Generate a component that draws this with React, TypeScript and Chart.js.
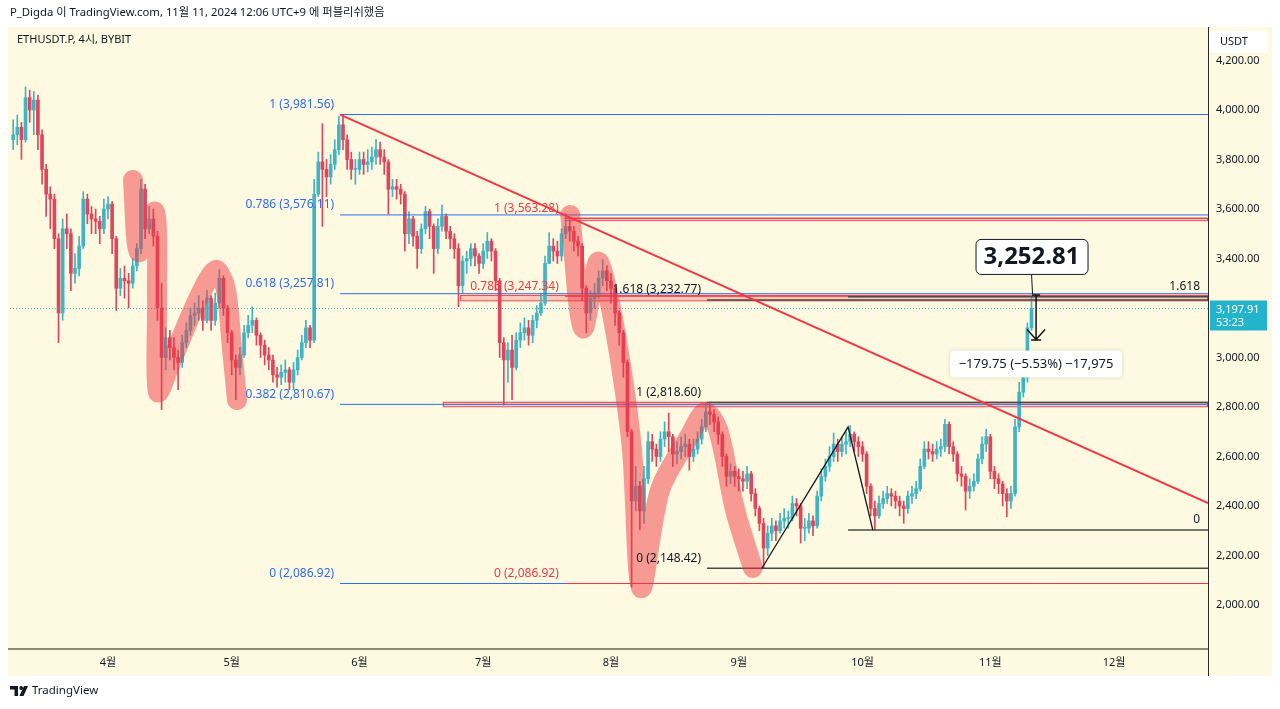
import React, { useEffect, useRef } from 'react';
import { Chart, registerables } from 'chart.js';

Chart.register(...registerables);

const FONT = '"Noto Sans", "Noto Sans CJK KR", sans-serif';

// ---- Data: daily OHLC, day offset from 2024-04-01 ----
const START_DAY = -23;
const FIRST_OPEN = 3880;
const closes = [
  3900, 3930, 3880, 4050, 4000, 4040, 3900, 3760, 3660, 3640, 3480, 3180, 3520, 3500, 3340, 3360, 3450, 3640, 3580, 3560, 3550, 3520, 3600,
  3620, 3480, 3280, 3320, 3310, 3300, 3370, 3440, 3680, 3520, 3560, 3490, 3200, 3000, 3080, 3040, 3000, 2980, 3060, 3110, 3170, 3180, 3200, 3150,
  3240, 3150, 3220, 3320, 3200, 3100, 2990, 2960, 3010, 3100, 3130, 3150, 3090, 3050, 3010, 2990, 2930, 2920, 2940, 2950, 2900, 2950, 3000, 3060, 3120, 3070,
  3660, 3790, 3760, 3730, 3780, 3840, 3940, 3880, 3800, 3760, 3760, 3800, 3780, 3790, 3810, 3840, 3810, 3790, 3680, 3690, 3680, 3660, 3500, 3560, 3490, 3440,
  3520, 3590, 3530, 3440, 3530, 3570, 3510, 3480, 3440, 3290, 3390, 3400, 3440, 3410, 3380, 3430, 3470, 3430, 3310, 3060, 2990, 3030, 2960, 3070,
  3100, 3120, 3090, 3150, 3180, 3220, 3380, 3450, 3430, 3410, 3500, 3530, 3510, 3470, 3450, 3280, 3180, 3240, 3260, 3320, 3350, 3310, 3280, 3180, 3100,
  2980, 2700, 2420, 2480, 2380, 2510, 2660, 2630, 2600, 2670, 2700, 2680, 2610, 2620, 2640, 2650, 2600, 2630, 2670, 2720, 2780, 2770, 2740, 2690, 2600,
  2520, 2540, 2520, 2510, 2500, 2530, 2450, 2390, 2330, 2230, 2290, 2320, 2300, 2340, 2350, 2350, 2410, 2400, 2310, 2310, 2340, 2320, 2440, 2520, 2560,
  2600, 2650, 2620, 2650, 2660, 2690, 2660, 2640, 2610, 2480, 2390, 2360, 2410, 2430, 2450, 2440, 2420, 2400, 2390, 2440, 2450, 2470, 2560, 2630, 2620,
  2610, 2630, 2640, 2730, 2640, 2610, 2530, 2520, 2460, 2480, 2500, 2590, 2650, 2680, 2540, 2510, 2490, 2450, 2420, 2450, 2720, 2860, 2920, 3120, 3198,
];
const highs = [
  3960, 3980, 3950, 4093, 4080, 4075, 4060, 3920, 3780, 3690, 3660, 3500, 3560, 3580, 3520, 3420, 3490, 3670, 3660, 3610, 3600, 3570, 3640,
  3650, 3630, 3490, 3360, 3370, 3340, 3400, 3460, 3720, 3700, 3610, 3600, 3510, 3300, 3120, 3110, 3080, 3030, 3090, 3140, 3200, 3220, 3250, 3230,
  3270, 3250, 3260, 3355, 3330, 3210, 3110, 3010, 3040, 3130, 3170, 3205, 3160, 3100, 3070, 3040, 3010, 2960, 2970, 2990, 2960, 2980, 3030, 3090, 3150, 3130,
  3720, 3830, 3945, 3800, 3820, 3880, 3975, 3982, 3900, 3830, 3800, 3830, 3830, 3840, 3850, 3880, 3870, 3840, 3800, 3720, 3720, 3700, 3670, 3590, 3570, 3510,
  3540, 3610, 3600, 3540, 3560, 3616, 3580, 3530, 3500, 3460, 3410, 3430, 3460, 3460, 3420, 3460, 3505, 3480, 3440, 3320, 3080, 3060, 3090, 3100,
  3140, 3160, 3150, 3170, 3210, 3260, 3410, 3505, 3480, 3470, 3520, 3583, 3560, 3530, 3490, 3460, 3290, 3270, 3300, 3350, 3395, 3370, 3340, 3290, 3190,
  3110, 2990, 2710, 2560, 2500, 2560, 2700, 2690, 2650, 2700, 2740, 2775, 2690, 2660, 2680, 2690, 2670, 2670, 2700, 2750, 2818, 2810, 2790, 2760, 2700,
  2610, 2570, 2560, 2550, 2540, 2560, 2540, 2470, 2400, 2350, 2320, 2350, 2340, 2370, 2390, 2380, 2440, 2430, 2410, 2350, 2370, 2360, 2460, 2550, 2590,
  2640, 2695, 2670, 2680, 2700, 2725, 2700, 2680, 2660, 2620, 2490, 2420, 2440, 2460, 2480, 2470, 2460, 2440, 2420, 2460, 2480, 2500, 2590, 2660, 2660,
  2650, 2660, 2670, 2750, 2740, 2660, 2620, 2560, 2530, 2510, 2530, 2610, 2680, 2710, 2690, 2560, 2530, 2500, 2470, 2480, 2750, 2900, 2960, 3140, 3252.81,
];
const lows = [
  3840, 3860, 3800, 3870, 3950, 3900, 3840, 3700, 3570, 3520, 3440, 3060, 3150, 3440, 3270, 3300, 3330, 3440, 3540, 3500, 3500, 3460, 3500,
  3560, 3420, 3190, 3250, 3240, 3200, 3280, 3350, 3420, 3480, 3500, 3450, 3150, 2790, 2950, 2990, 2950, 2870, 2960, 3040, 3090, 3130, 3150, 3110,
  3140, 3110, 3130, 3200, 3170, 3060, 2930, 2830, 2930, 3000, 3080, 3100, 3050, 3000, 2970, 2950, 2900, 2880, 2890, 2900, 2870, 2870, 2930, 2990, 3040, 3040,
  3060, 3650, 3530, 3650, 3700, 3760, 3820, 3840, 3760, 3720, 3700, 3740, 3740, 3750, 3760, 3780, 3780, 3740, 3580, 3650, 3640, 3620, 3430, 3460, 3450, 3360,
  3420, 3500, 3480, 3340, 3420, 3510, 3480, 3440, 3400, 3205, 3260, 3340, 3370, 3370, 3340, 3360, 3400, 3390, 3270, 3000, 2808, 2900, 2830, 2950,
  3040, 3070, 3050, 3060, 3120, 3170, 3210, 3380, 3390, 3380, 3390, 3480, 3470, 3430, 3410, 3230, 3100, 3150, 3200, 3240, 3290, 3270, 3220, 3130, 3050,
  2920, 2680, 2073, 2380, 2303, 2330, 2490, 2580, 2560, 2580, 2640, 2620, 2560, 2570, 2590, 2600, 2545, 2580, 2610, 2650, 2700, 2730, 2700, 2650, 2560,
  2480, 2490, 2480, 2460, 2460, 2470, 2420, 2360, 2300, 2150, 2200, 2260, 2260, 2290, 2310, 2310, 2340, 2360, 2250, 2260, 2290, 2280, 2310, 2420, 2500,
  2540, 2580, 2580, 2600, 2610, 2640, 2620, 2600, 2580, 2450, 2360, 2303, 2350, 2390, 2410, 2400, 2390, 2360, 2330, 2370, 2410, 2430, 2460, 2550, 2590,
  2580, 2590, 2600, 2620, 2610, 2580, 2500, 2480, 2384, 2430, 2460, 2490, 2570, 2620, 2510, 2470, 2450, 2400, 2357, 2390, 2440, 2700, 2840, 2900, 3110,
];

// Axis ticks
const monthTickDays = [0, 30, 61, 91, 122, 153, 183, 214, 244];
const monthLabels = ['4월', '5월', '6월', '7월', '8월', '9월', '10월', '11월', '12월'];
const priceTicks = [2000, 2200, 2400, 2600, 2800, 3000, 3200, 3400, 3600, 3800, 4000, 4200];
const X_MIN = -23.77;
const X_MAX = 266.8;
const Y_MIN = 1826.3;
const Y_MAX = 4331.3;

// Fibonacci tools (level labels, prices, anchor day)
const blueFibLevels = ['1', '0.786', '0.618', '0.382', '0'];
const blueFibPrices = [3981.56, 3576.11, 3257.81, 2810.67, 2086.92];
const blueFibStart = 56.3;
const redFibLevels = ['1', '0.786', '0'];
const redFibPrices = [3563.28, 3247.34, 2086.92];
const redFibStart = 110.8;
const blackFibLevels = ['1.618', '1', '0'];
const blackFibPrices = [3232.77, 2818.6, 2148.42];
const blackFibStart = 145.3;
const rightFibLevels = ['1.618', '0'];
const rightFibPrices = [3245, 2303];
const rightFibStart = 179.5;

// Zones (start day, top price, bottom price)
const zoneStarts = [85.4, 81.2, 110.8];
const zoneTops = [3253, 2821, 3563.28];
const zoneBottoms = [3231, 2803, 3555];

// Trend line and zig-zag [day, price]
const trendLine = [[56.3, 3981.56], [266.8, 2412]];
const zigzag = [[158.6, 2148.42], [179.5, 2719], [185.5, 2303]];

// Hand-drawn highlighter paths [day, price]
const strokeA = [[6.06, 3717], [7.5, 3426], [11.4, 3588], [11.9, 3232], [12.1, 2861], [15.5, 2990], [22.3, 3253], [26.2, 3354], [28.6, 3273], [30.1, 3030], [31.3, 2828]];
const strokeB = [[112.1, 3576], [115.2, 3119], [118.8, 3386], [120.8, 3293], [124.2, 2990], [127.1, 2626], [129.3, 2069], [133.9, 2465], [141.2, 2687], [144.8, 2780], [148, 2707], [152.1, 2384], [156.4, 2150]];

const lastPrice = 3197.91;
const lastPriceTimer = '53:23';
const highLabelDay = 224;
const highLabelPrice = 3252.81;
const measureDay = 225.1;
const measureFrom = 3252.81;
const measureTo = 3073.06;
const measureText = '\u2212179.75 (\u22125.53%) \u221217,975';

const UP = '#3fb4c5';
const DOWN = '#e0455b';
const PANEL = '#fefae1';
const BLUE = '#2f6bf0';
const RED = '#f23645';
const DARK = '#131722';

const fmt = (v: number) => v.toLocaleString('en-US', { minimumFractionDigits: 2, maximumFractionDigits: 2 });

function buildConfig() {
  const opens = closes.map((c, i) => (i === 0 ? FIRST_OPEN : closes[i - 1]));
  const days = closes.map((_, i) => START_DAY + i);
  const colors = closes.map((c, i) => (c >= opens[i] ? UP : DOWN));
  const pts = (arr: number[][]) => arr.map(([x, y]) => ({ x, y }));
  const hline = (start: number, price: number) => [{ x: start, y: price }, { x: X_MAX, y: price }];
  const line = (data: any, color: string, width: number, order: number, extra: any = {}) => ({
    type: 'line', data, borderColor: color, borderWidth: width, pointRadius: 0, fill: false, tension: 0, order, ...extra,
  });

  const datasets: any[] = [];
  datasets.push({
    type: 'bar', data: days.map((d, i) => ({ x: d, y: [lows[i], highs[i]] })),
    backgroundColor: colors, barThickness: 1, grouped: false, order: 20,
  });
  datasets.push({
    type: 'bar', data: days.map((d, i) => ({ x: d, y: [opens[i], closes[i]] })),
    backgroundColor: colors, barThickness: 3, minBarLength: 1, grouped: false, order: 19,
  });
  datasets.push(line(hline(X_MIN, lastPrice), '#2bb0c8', 1, 18, { borderDash: [1, 2] }));
  blueFibPrices.forEach((p) => datasets.push(line(hline(blueFibStart, p), BLUE, 1, 10)));
  redFibPrices.forEach((p) => datasets.push(line(hline(redFibStart, p), RED, 1, 9)));
  blackFibPrices.forEach((p) => datasets.push(line(hline(blackFibStart, p), '#4a4a44', 1.5, 8)));
  rightFibPrices.forEach((p) => datasets.push(line(hline(rightFibStart, p), '#4a4a44', 1.5, 8)));
  datasets.push(line(pts(strokeA), 'rgba(238,58,70,0.5)', 20, 5, { borderCapStyle: 'round', borderJoinStyle: 'round', tension: 0.3 }));
  datasets.push(line(pts(strokeB), 'rgba(238,58,70,0.5)', 20, 5, { borderCapStyle: 'round', borderJoinStyle: 'round', tension: 0.3 }));
  datasets.push(line(pts(zigzag), '#1a1a1a', 1.3, 2));
  datasets.push(line(pts(trendLine), RED, 2, 1));

  const overlay = {
    id: 'overlay',
    beforeDraw(chart: any) {
      const ctx = chart.ctx;
      ctx.save();
      ctx.fillStyle = '#ffffff';
      ctx.fillRect(0, 0, chart.width, chart.height);
      ctx.fillStyle = PANEL;
      ctx.fillRect(8, 27, 1264, 649);
      ctx.fillStyle = DARK;
      ctx.textBaseline = 'middle';
      ctx.font = '11.3px ' + FONT;
      ctx.fillText('P_Digda 이 TradingView.com, 11월 11, 2024 12:06 UTC+9 에 퍼블리쉬했음', 10, 13);
      // footer logo
      ctx.fillRect(10, 686, 8, 3.5);
      ctx.fillRect(14.5, 686, 3.5, 10);
      ctx.beginPath();
      ctx.arc(21.2, 688, 1.9, 0, Math.PI * 2);
      ctx.fill();
      ctx.beginPath();
      ctx.moveTo(24, 686); ctx.lineTo(28, 686); ctx.lineTo(23.5, 696); ctx.lineTo(19.5, 696);
      ctx.closePath();
      ctx.fill();
      ctx.font = '11.5px ' + FONT;
      ctx.fillText('TradingView', 32, 691);
      ctx.restore();
    },
    beforeDatasetsDraw(chart: any) {
      const ctx = chart.ctx;
      const xs = chart.scales.x, ys = chart.scales.y;
      const right = chart.chartArea.right;
      ctx.save();
      zoneStarts.forEach((s, i) => {
        const x0 = xs.getPixelForValue(s);
        const y0 = ys.getPixelForValue(zoneTops[i]);
        const y1 = ys.getPixelForValue(zoneBottoms[i]);
        ctx.fillStyle = i === 2 ? 'rgba(242,54,69,0.12)' : 'rgba(242,54,69,0.25)';
        ctx.fillRect(x0, y0, right - x0, y1 - y0);
        ctx.strokeStyle = 'rgba(226,40,60,0.85)';
        ctx.lineWidth = 1;
        ctx.strokeRect(x0 + 0.5, y0 + 0.5, right - x0 - 1, y1 - y0);
      });
      ctx.restore();
    },
    afterDraw(chart: any) {
      const ctx = chart.ctx;
      const xs = chart.scales.x, ys = chart.scales.y;
      const { right, bottom, top } = chart.chartArea;
      const px = (d: number) => xs.getPixelForValue(d);
      const py = (p: number) => ys.getPixelForValue(p);
      ctx.save();
      // frame
      ctx.fillStyle = '#8e8b72';
      ctx.fillRect(8, bottom, right - 8, 2);
      ctx.fillStyle = '#2a2a2a';
      ctx.fillRect(right, 27, 1, 649);

      ctx.textBaseline = 'middle';
      ctx.font = '11px ' + FONT;
      // chart title
      ctx.fillStyle = DARK;
      ctx.textAlign = 'left';
      ctx.fillText('ETHUSDT.P, 4시, BYBIT', 17, 40);

      // fib labels
      ctx.textAlign = 'right';
      ctx.font = '12px ' + FONT;
      const fibLabels = (levels: string[], prices: number[], start: number, color: string) => {
        ctx.fillStyle = color;
        levels.forEach((l, i) => {
          ctx.fillText(`${l} (${fmt(prices[i])})`, px(start) - 6, py(prices[i]) - 10);
        });
      };
      fibLabels(blueFibLevels, blueFibPrices, blueFibStart, BLUE);
      fibLabels(redFibLevels, redFibPrices, redFibStart, RED);
      fibLabels(blackFibLevels, blackFibPrices, blackFibStart, DARK);
      ctx.fillStyle = DARK;
      rightFibLevels.forEach((l, i) => ctx.fillText(l, right - 8, py(rightFibPrices[i]) - 10));

      // high price callout
      const hx = px(highLabelDay);
      const hy = py(highLabelPrice);
      ctx.strokeStyle = DARK;
      ctx.lineWidth = 1;
      ctx.beginPath();
      ctx.moveTo(hx, hy - 21); ctx.lineTo(hx + 1, hy - 1);
      ctx.stroke();
      const bw = 112, bh = 35;
      ctx.fillStyle = '#ffffff';
      ctx.beginPath();
      ctx.roundRect(hx - bw / 2 + 0.5, hy - 21 - bh + 0.5, bw, bh, 5);
      ctx.fill();
      ctx.stroke();
      ctx.fillStyle = DARK;
      ctx.textAlign = 'center';
      ctx.font = 'bold 24px ' + FONT;
      ctx.fillText(fmt(highLabelPrice), hx, hy - 21 - bh / 2 + 1);

      // measure arrow
      const mx = px(measureDay);
      const my0 = py(measureFrom);
      const my1 = py(measureTo);
      ctx.strokeStyle = '#111';
      ctx.lineWidth = 1.5;
      ctx.beginPath();
      ctx.moveTo(mx - 4, my0); ctx.lineTo(mx + 4, my0);
      ctx.moveTo(mx, my0); ctx.lineTo(mx, my1);
      ctx.moveTo(mx - 9, my1 - 10); ctx.lineTo(mx, my1); ctx.lineTo(mx + 9, my1 - 10);
      ctx.moveTo(mx - 5, my1 + 0.5); ctx.lineTo(mx + 5, my1 + 0.5);
      ctx.stroke();
      ctx.font = '13px ' + FONT;
      const mw = 172, mh = 27;
      const mTop = my1 + 11;
      ctx.shadowColor = 'rgba(0,0,0,0.15)';
      ctx.shadowBlur = 4;
      ctx.fillStyle = '#ffffff';
      ctx.beginPath();
      ctx.roundRect(mx - 86, mTop, mw, mh, 4);
      ctx.fill();
      ctx.shadowColor = 'transparent';
      ctx.shadowBlur = 0;
      ctx.fillStyle = DARK;
      ctx.fillText(measureText, mx, mTop + mh / 2 + 0.5);

      // last price tag
      const ly = py(lastPrice);
      ctx.fillStyle = '#23b4cb';
      ctx.fillRect(right + 2, ly - 8, 57, 30);
      ctx.fillStyle = '#ffffff';
      ctx.textAlign = 'left';
      ctx.font = '11px ' + FONT;
      ctx.fillText(fmt(lastPrice), right + 8, ly + 1);
      ctx.fillText(lastPriceTimer, right + 8, ly + 14);

      // currency box
      ctx.fillStyle = '#ffffff';
      ctx.beginPath();
      ctx.roundRect(right + 2, top + 3, 58, 22, 3);
      ctx.fill();
      ctx.fillStyle = DARK;
      ctx.fillText('USDT', right + 12, top + 14);
      ctx.restore();
    },
  };

  return {
    type: 'bar',
    data: { datasets },
    options: {
      animation: false,
      responsive: false,
      devicePixelRatio: 1,
      events: [],
      layout: { padding: { left: 10, top: 28, right: 8, bottom: 34 } },
      plugins: { legend: { display: false }, tooltip: { enabled: false } },
      scales: {
        x: {
          type: 'linear', min: X_MIN, max: X_MAX, offset: false,
          grid: { display: false, drawTicks: false }, border: { display: false },
          afterBuildTicks: (s: any) => { s.ticks = monthTickDays.map((v) => ({ value: v })); },
          afterFit: (s: any) => { s.height = 27; },
          ticks: {
            autoSkip: false, maxRotation: 0, padding: 8, color: DARK, font: { size: 11, family: FONT },
            callback: (_v: any, i: number) => monthLabels[i],
          },
        },
        y: {
          type: 'linear', position: 'right', min: Y_MIN, max: Y_MAX,
          grid: { display: false, drawTicks: false }, border: { display: false },
          afterBuildTicks: (s: any) => { s.ticks = priceTicks.map((v) => ({ value: v })); },
          afterFit: (s: any) => { s.width = 64; },
          ticks: { padding: 8, color: DARK, font: { size: 11, family: FONT }, callback: (v: any) => fmt(Number(v)) },
        },
      },
    },
    plugins: [overlay],
  };
}

export default function App() {
  const ref = useRef<HTMLCanvasElement>(null);
  useEffect(() => {
    const chart = new Chart(ref.current as HTMLCanvasElement, buildConfig() as any);
    return () => chart.destroy();
  }, []);
  return (
    <div style={{ position: 'absolute', left: 0, top: 0, width: 1280, height: 709, background: '#fff' }}>
      <canvas ref={ref} width={1280} height={709} style={{ display: 'block', width: 1280, height: 709 }} />
    </div>
  );
}
